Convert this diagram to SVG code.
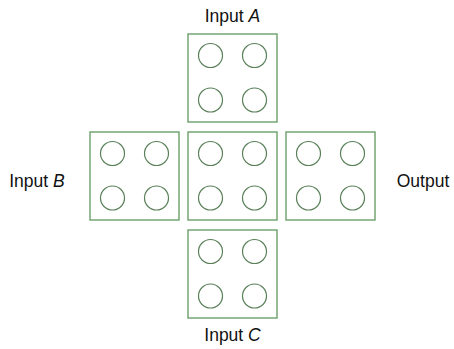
<svg xmlns="http://www.w3.org/2000/svg" width="454" height="349" viewBox="0 0 454 349">
  <defs>
    <style>
      .cell { fill: #ffffff; stroke: #74a774; stroke-width: 1.5; }
      .pin { fill: none; stroke: #5a805a; stroke-width: 1.2; }
      .label { font-family: "Liberation Sans", Arial, sans-serif; font-size: 17.5px; fill: #111111; }
      .var { font-style: italic; }
    </style>
    <!-- 2x2 grid of pins shared by every cell -->
    <g id="pins">
      <circle class="pin" cx="22.5" cy="21.5" r="12"/>
      <circle class="pin" cx="66.5" cy="21.5" r="12"/>
      <circle class="pin" cx="22.5" cy="66" r="12"/>
      <circle class="pin" cx="66.5" cy="66" r="12"/>
    </g>
  </defs>

  <rect width="454" height="349" fill="#ffffff"/>

  <g id="connectors"></g>

  <g id="inputA">
    <rect class="cell" x="188" y="34" width="89" height="88"/>
    <use href="#pins" x="188" y="34"/>
    <text class="label" x="232.5" y="22" text-anchor="middle">Input <tspan class="var">A</tspan></text>
  </g>

  <g id="inputB">
    <rect class="cell" x="90" y="132" width="89" height="88"/>
    <use href="#pins" x="90" y="132"/>
    <text class="label" x="37" y="187" text-anchor="middle">Input <tspan class="var">B</tspan></text>
  </g>

  <g id="center">
    <rect class="cell" x="188" y="132" width="89" height="88"/>
    <use href="#pins" x="188" y="132"/>
  </g>

  <g id="output">
    <rect class="cell" x="286" y="132" width="89" height="88"/>
    <use href="#pins" x="286" y="132"/>
    <text class="label" x="423" y="187" text-anchor="middle">Output</text>
  </g>

  <g id="inputC">
    <rect class="cell" x="188" y="230" width="89" height="88"/>
    <use href="#pins" x="188" y="230"/>
    <text class="label" x="232.5" y="341" text-anchor="middle">Input <tspan class="var">C</tspan></text>
  </g>
</svg>
